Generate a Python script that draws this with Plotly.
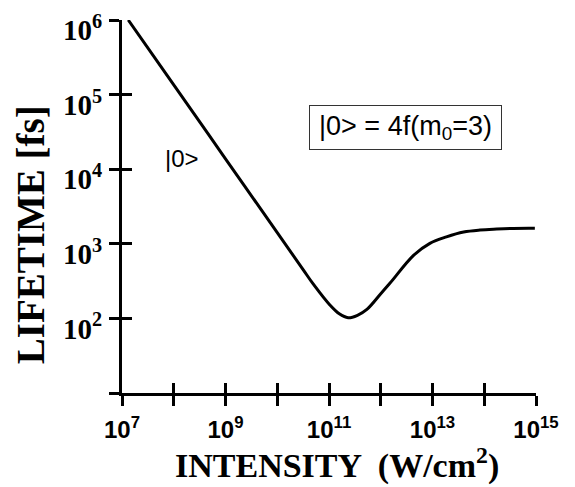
import plotly.graph_objects as go

# Data (log-log)
intensity = [1.32e7, 1e8, 1e9, 1e10, 3.16e10, 4.9e10, 1.05e11, 1.58e11, 2.34e11, 3.55e11,
             5.4e11, 1e12, 1.5e12, 4.3e12, 8.9e12, 1.86e13, 4e13, 8.3e13, 1.74e14,
             3.6e14, 9.5e14]
lifetime = [1e6, 1.35e5, 1.38e4, 1410, 451, 292, 150, 115, 102, 110,
            132, 214, 295, 700, 1015, 1240, 1440, 1530, 1575,
            1605, 1610]

x_labeled = [1e7, 1e9, 1e11, 1e13, 1e15]
x_labels = ["<b>10<sup>7</sup></b>", "<b>10<sup>9</sup></b>", "<b>10<sup>11</sup></b>",
            "<b>10<sup>13</sup></b>", "<b>10<sup>15</sup></b>"]
x_unlabeled = [1e8, 1e10, 1e12, 1e14]
y_labeled = [1e2, 1e3, 1e4, 1e5, 1e6]
y_labels = ["<b>10<sup>2</sup></b>", "<b>10<sup>3</sup></b>", "<b>10<sup>4</sup></b>",
            "<b>10<sup>5</sup></b>", "<b>10<sup>6</sup></b>"]
y_unlabeled = [1e1]

x_title = "<b>INTENSITY  (W/cm<sup>2</sup>)</b>"
y_title = "<b>LIFETIME [fs]</b>"
curve_label = "|0>"
box_label = "|0> = 4f(m<sub>0</sub>=3)"

fig = go.Figure()
fig.add_trace(go.Scatter(x=intensity, y=lifetime, mode="lines",
                         line=dict(color="black", width=3, shape="spline", smoothing=1.0),
                         showlegend=False, hoverinfo="skip"))
# invisible trace to instantiate the overlay axes (inside halves of the ticks)
fig.add_trace(go.Scatter(x=[intensity[0]], y=[lifetime[0]], xaxis="x2", yaxis="y2",
                         mode="markers", marker=dict(opacity=0), showlegend=False,
                         hoverinfo="skip"))

axis_common = dict(showgrid=False, zeroline=False, linecolor="black", linewidth=3,
                   tickcolor="black", tickwidth=3, ticklen=10, showline=True)

fig.update_layout(
    width=567, height=479,
    margin=dict(l=114, r=39, t=2, b=94),
    paper_bgcolor="white", plot_bgcolor="white",
    xaxis=dict(type="log", range=[7, 15], tickmode="array", tickvals=x_labeled,
               ticktext=x_labels, ticks="outside", ticklabelstandoff=3,
               minor=dict(tickmode="array", tickvals=x_unlabeled, ticks="outside",
                          ticklen=10, tickwidth=3, tickcolor="black", showgrid=False),
               tickfont=dict(family="Liberation Sans", size=24, color="black"),
               **axis_common),
    yaxis=dict(type="log", range=[1, 6], tickmode="array", tickvals=y_labeled,
               ticktext=y_labels, ticks="outside", ticklabelshift=10,
               ticklabelstandoff=1, ticklabeloverflow="allow",
               minor=dict(tickmode="array", tickvals=y_unlabeled, ticks="outside",
                          ticklen=10, tickwidth=3, tickcolor="black", showgrid=False),
               tickfont=dict(family="Liberation Serif", size=29, color="black"),
               **axis_common),
    xaxis2=dict(type="log", range=[7, 15], tickmode="array",
                tickvals=x_labeled + x_unlabeled, showticklabels=False,
                ticks="inside", overlaying="x", anchor="y2", side="bottom", **axis_common),
    yaxis2=dict(type="log", range=[1, 6], tickmode="array",
                tickvals=y_unlabeled + y_labeled, showticklabels=False,
                ticks="inside", overlaying="y", anchor="x2", side="left", **axis_common),
    annotations=[
        dict(text=x_title, xref="paper", yref="paper", x=0.519, y=-0.19,
             xanchor="center", yanchor="middle", showarrow=False,
             font=dict(family="Liberation Serif", size=34, color="black")),
        dict(text=y_title, xref="paper", yref="paper", x=-0.222, y=0.423,
             xanchor="center", yanchor="middle", textangle=-90, showarrow=False,
             font=dict(family="Liberation Serif", size=39, color="black")),
        dict(text=curve_label, xref="x", yref="y", x=8.16, y=4.15,
             xanchor="center", yanchor="middle", showarrow=False,
             font=dict(family="Liberation Sans", size=24, color="black")),
        dict(text=box_label, xref="paper", yref="paper", x=0.685, y=0.7115,
             xanchor="center", yanchor="middle", showarrow=False,
             width=185, height=37, align="center",
             bordercolor="#333333", borderwidth=1, borderpad=3, bgcolor="white",
             font=dict(family="Liberation Sans", size=27, color="black")),
    ],
)

fig.write_html("out.html")
